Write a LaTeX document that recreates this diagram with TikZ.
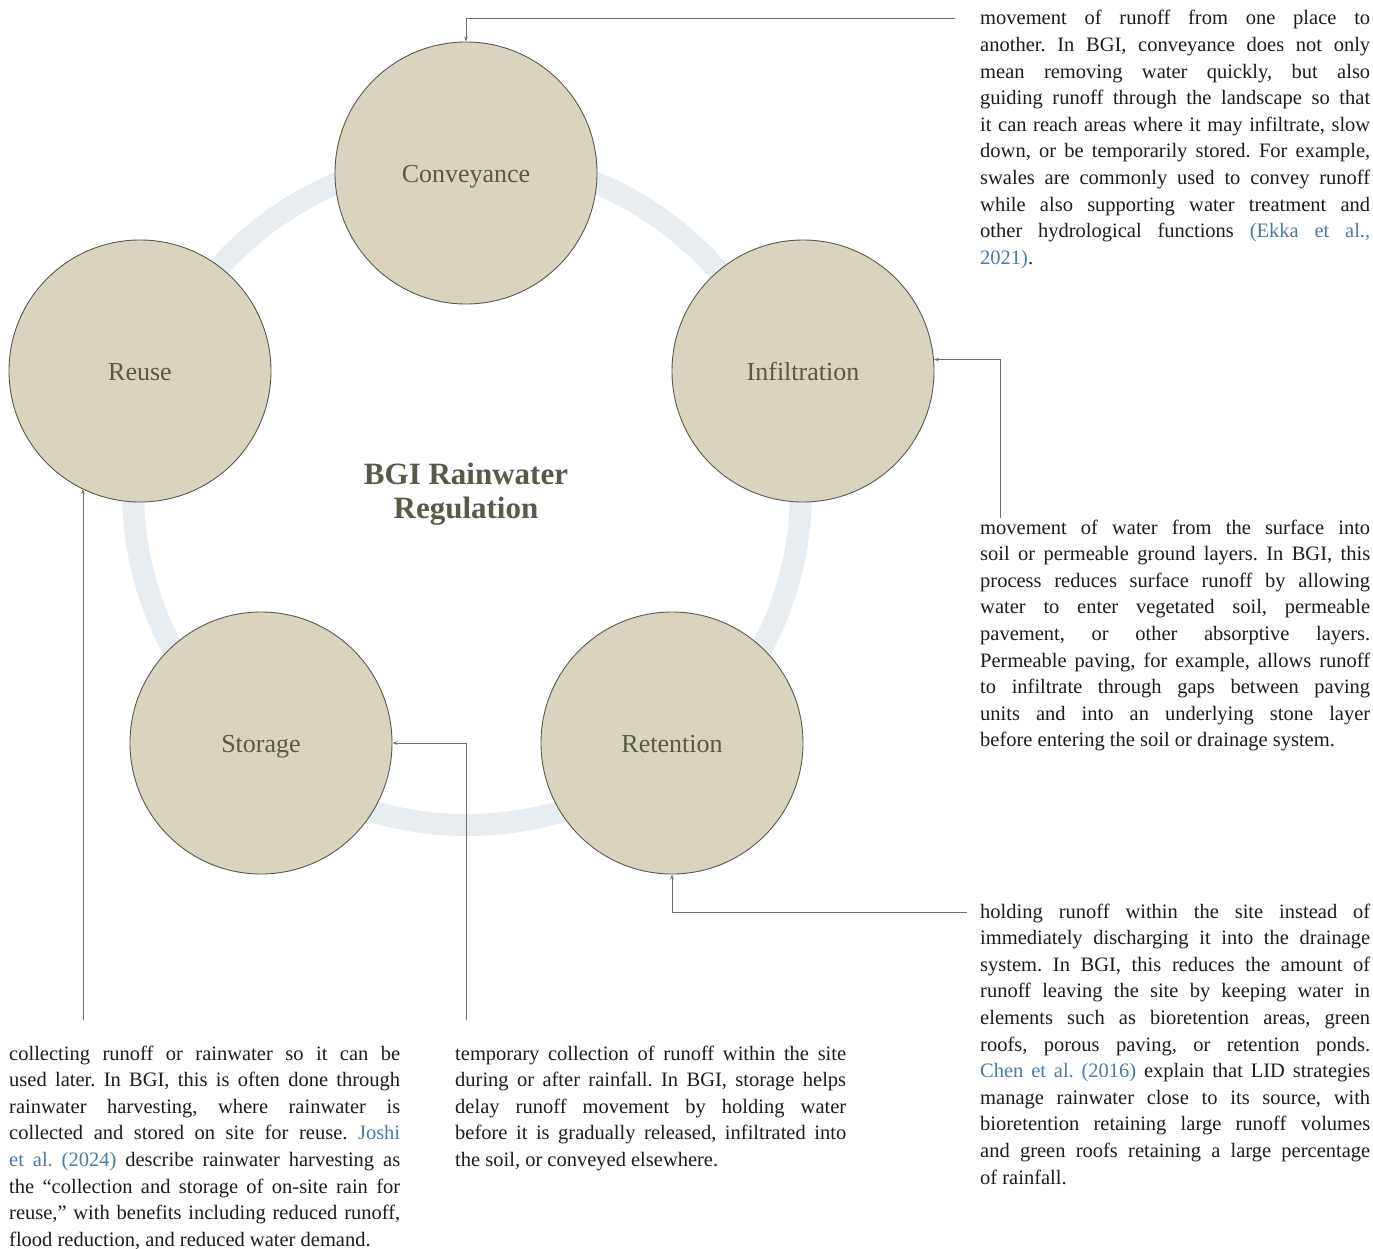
\documentclass[tikz,border=0pt]{standalone}
\usepackage{fontspec}
\setmainfont{Liberation Serif}
\usetikzlibrary{arrows.meta}
\definecolor{ringc}{RGB}{231,237,240}
\definecolor{bubble}{RGB}{218,211,192}
\definecolor{bubbleline}{RGB}{90,90,75}
\definecolor{labelc}{RGB}{88,90,72}
\definecolor{connc}{RGB}{112,112,100}
\definecolor{citeblue}{RGB}{74,122,168}
\definecolor{bodyc}{RGB}{28,28,28}
\newcommand{\refc}[1]{\textcolor{citeblue}{#1}}
\frenchspacing
\tolerance=10000
\hyphenpenalty=10000
\begin{document}
\begin{tikzpicture}[x=1pt,y=-1pt,
 bubblenode/.style={circle, fill=bubble, draw=bubbleline, line width=0.9pt, minimum size=262pt, inner sep=0pt, text=labelc, text height=19pt, text depth=0pt, font=\fontsize{26}{30}\selectfont},
 desc/.style={anchor=base west, inner sep=0pt, text=bodyc, align=justify, font=\fontsize{20.5}{26.6}\selectfont},
 conn/.style={draw=connc, line width=0.9pt, -{Stealth[length=5pt,width=3.5pt]}},
 ringstyle/.style={circle, draw=ringc, line width=22pt, minimum size=668pt, inner sep=0pt},
]
\useasboundingbox (0,0) rectangle (1373,1249);
\node[ringstyle] (ring) at (467,491) {};

\node[bubblenode] (conv) at (466,173) {Conveyance};
\node[bubblenode] (infl) at (803,371) {Infiltration};
\node[bubblenode] (reuse) at (140,371) {Reuse};
\node[bubblenode] (stor) at (261,743) {Storage};
\node[bubblenode] (ret) at (672,743) {Retention};

\node[font=\bfseries\fontsize{31}{34}\selectfont, text=labelc, align=center] (title) at (466,494) {BGI Rainwater\\Regulation};

\node[desc, text width=390pt] (tconv) at (980,25) {movement of runoff from one place to \linebreak
another. In BGI, conveyance does not only \linebreak
mean removing water quickly, but also \linebreak
guiding runoff through the landscape so that \linebreak
it can reach areas where it may infiltrate, slow \linebreak
down, or be temporarily stored. For example, \linebreak
swales are commonly used to convey runoff \linebreak
while also supporting water treatment and \linebreak
other hydrological functions \refc{(Ekka et al.,} \linebreak
\refc{2021)}.};

\node[desc, text width=390pt] (tinfl) at (980,534) {movement of water from the surface into \linebreak
soil or permeable ground layers. In BGI, this \linebreak
process reduces surface runoff by allowing \linebreak
water to enter vegetated soil, permeable \linebreak
pavement, or other absorptive layers. \linebreak
Permeable paving, for example, allows runoff \linebreak
to infiltrate through gaps between paving \linebreak
units and into an underlying stone layer \linebreak
before entering the soil or drainage system.};

\node[desc, text width=390pt] (tret) at (980,918) {holding runoff within the site instead of \linebreak
immediately discharging it into the drainage \linebreak
system. In BGI, this reduces the amount of \linebreak
runoff leaving the site by keeping water in \linebreak
elements such as bioretention areas, green \linebreak
roofs, porous paving, or retention ponds. \linebreak
\refc{Chen et al. (2016)} explain that LID strategies \linebreak
manage rainwater close to its source, with \linebreak
bioretention retaining large runoff volumes \linebreak
and green roofs retaining a large percentage \linebreak
of rainfall.};

\node[desc, text width=391pt] (treuse) at (9,1060) {collecting runoff or rainwater so it can be \linebreak
used later. In BGI, this is often done through \linebreak
rainwater harvesting, where rainwater is \linebreak
collected and stored on site for reuse. \refc{Joshi} \linebreak
\refc{et al. (2024)} describe rainwater harvesting as \linebreak
the “collection and storage of on-site rain for \linebreak
reuse,” with benefits including reduced runoff, \linebreak
flood reduction, and reduced water demand.};

\node[desc, text width=391pt] (tstor) at (455,1060) {temporary collection of runoff within the site \linebreak
during or after rainfall. In BGI, storage helps \linebreak
delay runoff movement by holding water \linebreak
before it is gradually released, infiltrated into \linebreak
the soil, or conveyed elsewhere.};

\coordinate (cA) at (955,18);
\coordinate (cB) at (1000,518);
\coordinate (cC) at (967,912);
\coordinate (cD) at (466,1020);
\coordinate (cE) at (83,1020);

\draw[conn] (cA) -| (conv.north);
\draw[conn] (cB) |- (infl.5);
\draw[conn] (cC) -| (ret.south);
\draw[conn] (cD) |- (stor.east);
\draw[conn] (cE) -- (cE |- reuse.244.2);
\end{tikzpicture}
\end{document}
